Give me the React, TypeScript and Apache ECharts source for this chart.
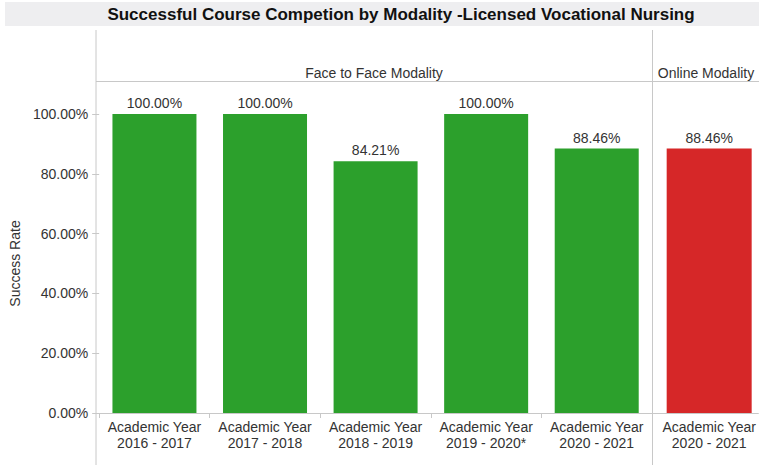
import React, { useEffect, useRef } from "react";
import * as echarts from "echarts";

const title = "Successful Course Competion by Modality -Licensed Vocational Nursing";
const faceCategories = [
  "Academic Year\n2016 - 2017",
  "Academic Year\n2017 - 2018",
  "Academic Year\n2018 - 2019",
  "Academic Year\n2019 - 2020*",
  "Academic Year\n2020 - 2021",
];
const faceValues = [100, 100, 84.21, 100, 88.46];
const onlineCategories = ["Academic Year\n2020 - 2021"];
const onlineValues = [88.46];
const panelNames = ["Face to Face Modality", "Online Modality"];
const yTicks = [0, 20, 40, 60, 80, 100];

const FONT = "Arial, 'Liberation Sans', sans-serif";
const TEXT = "#333333";
const LINE = "#c8c8c8";

export default function App() {
  const ref = useRef<HTMLDivElement>(null);
  useEffect(() => {
    document.body.style.margin = "0";
    const chart = echarts.init(ref.current!, null, { renderer: "svg" });
    const pct = (v: number) => v.toFixed(2) + "%";
    const labelStyle = { color: TEXT, fontSize: 14, fontFamily: FONT, lineHeight: 16 };
    chart.setOption({
      animation: false,
      backgroundColor: "#ffffff",
      grid: [
        { left: 96, right: 107, top: 114, bottom: 52, containLabel: false },
        { left: 660, right: 0, top: 114, bottom: 52, containLabel: false },
      ],
      xAxis: [
        {
          type: "category",
          gridIndex: 0,
          data: faceCategories,
          axisLine: { show: true, lineStyle: { color: LINE, width: 1 } },
          axisTick: { show: true, length: 5, lineStyle: { color: LINE } },
          axisLabel: { ...labelStyle, margin: 6, interval: 0 },
        },
        {
          type: "category",
          gridIndex: 1,
          data: onlineCategories,
          axisLine: { show: true, lineStyle: { color: LINE, width: 1 } },
          axisTick: { show: false },
          axisLabel: { ...labelStyle, margin: 6, interval: 0 },
        },
      ],
      yAxis: [
        {
          type: "value",
          gridIndex: 0,
          min: 0,
          max: yTicks[yTicks.length - 1],
          interval: 20,
          name: "Success Rate",
          nameLocation: "middle",
          nameRotate: 90,
          nameGap: 69,
          nameTextStyle: { color: TEXT, fontSize: 14, fontFamily: FONT },
          axisLine: { show: false },
          axisTick: { show: true, length: 7, lineStyle: { color: LINE } },
          axisLabel: { color: TEXT, fontSize: 14, fontFamily: FONT, margin: 11, formatter: (v: number) => pct(v) },
          splitLine: { show: false },
        },
        {
          type: "value",
          gridIndex: 1,
          min: 0,
          max: yTicks[yTicks.length - 1],
          interval: 20,
          show: false,
          splitLine: { show: false },
        },
      ],
      series: [
        {
          type: "bar",
          xAxisIndex: 0,
          yAxisIndex: 0,
          data: faceValues,
          barWidth: 84,
          itemStyle: { color: "#2ca02c" },
          label: { show: true, position: "top", distance: 4, color: TEXT, fontSize: 14, fontFamily: FONT, formatter: (p: any) => pct(p.value) },
        },
        {
          type: "bar",
          xAxisIndex: 1,
          yAxisIndex: 1,
          data: onlineValues,
          barWidth: 85,
          itemStyle: { color: "#d62728" },
          label: { show: true, position: "top", distance: 4, color: TEXT, fontSize: 14, fontFamily: FONT, formatter: (p: any) => pct(p.value) },
        },
      ],
      graphic: [
        { type: "rect", z: 0, shape: { x: 5, y: 2, width: 760, height: 24 }, style: { fill: "#eeeef0" } },
        {
          type: "text", z: 10, x: 401, y: 14,
          style: { text: title, fill: "#111111", font: `bold 17px ${FONT}`, align: "center", verticalAlign: "middle" },
        },
        { type: "line", shape: { x1: 96, y1: 30, x2: 96, y2: 465 }, style: { stroke: LINE, lineWidth: 1 } },
        { type: "line", shape: { x1: 652.5, y1: 30, x2: 652.5, y2: 465 }, style: { stroke: LINE, lineWidth: 1 } },
        { type: "line", shape: { x1: 96, y1: 81.5, x2: 759, y2: 81.5 }, style: { stroke: LINE, lineWidth: 1 } },
        { type: "line", shape: { x1: 652, y1: 413.5, x2: 661, y2: 413.5 }, style: { stroke: LINE, lineWidth: 1 } },
        {
          type: "text", x: 374, y: 73,
          style: { text: panelNames[0], fill: TEXT, font: `14px ${FONT}`, align: "center", verticalAlign: "middle" },
        },
        {
          type: "text", x: 706, y: 73,
          style: { text: panelNames[1], fill: TEXT, font: `14px ${FONT}`, align: "center", verticalAlign: "middle" },
        },
      ],
    });
    return () => chart.dispose();
  }, []);
  return <div ref={ref} style={{ width: 759, height: 465 }} />;
}
